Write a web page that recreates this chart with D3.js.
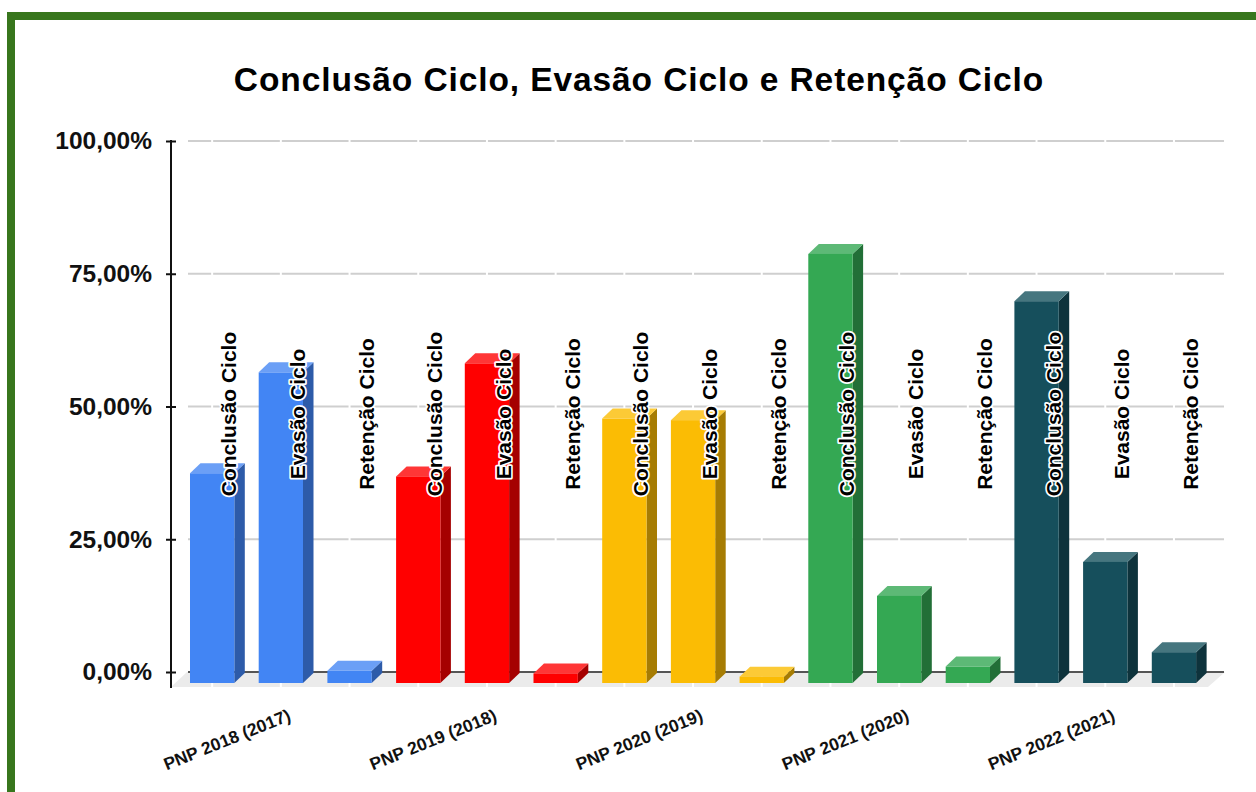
<!DOCTYPE html>
<html>
<head>
<meta charset="utf-8">
<script src="https://cdn.jsdelivr.net/npm/d3@7"></script>
<style>
  body { margin: 0; background: #fff; }
  text { font-family: 'Liberation Sans', Arial, sans-serif; font-weight: bold; }
</style>
</head>
<body>
<div class="svg-container"></div>
<script>
const categories = ['PNP 2018 (2017)', 'PNP 2019 (2018)', 'PNP 2020 (2019)', 'PNP 2021 (2020)', 'PNP 2022 (2021)']
const seriesNames = ['Conclusão Ciclo', 'Evasão Ciclo', 'Retenção Ciclo']
const conclusao = [39.5, 38.9, 49.8, 80.8, 71.9]
const evasao = [58.5, 60.2, 49.5, 16.4, 22.8]
const retencao = [2.3, 1.8, 1.2, 3.1, 5.8]
const yTicks = [0, 25, 50, 75, 100]

// one colour set per category: front, top, side
const palette = [
  ['#4285f4', '#6b9ff6', '#2d5ba9'],
  ['#ff0000', '#ff3636', '#a50000'],
  ['#fbbc04', '#fcca36', '#a67c03'],
  ['#34a853', '#5db976', '#226f37'],
  ['#164f5c', '#46767f', '#0e333c'],
]

const W = 1256, H = 792
const depthX = 10.5, depthY = 10, frontDrop = 11

const svg = d3.select('.svg-container').append('svg')
  .attr('width', W)
  .attr('height', H)

// green frame, cut by the right and bottom edges
svg.append('rect')
  .attr('x', 11).attr('y', 16)
  .attr('width', 1400).attr('height', 1000)
  .attr('fill', '#fff')
  .attr('stroke', '#38761d')
  .attr('stroke-width', 8)

svg.append('text')
  .attr('x', 639).attr('y', 91)
  .attr('text-anchor', 'middle')
  .style('font-size', '33.5px')
  .style('letter-spacing', '0.9px')
  .text('Conclusão Ciclo, Evasão Ciclo e Retenção Ciclo')

// flatten to 15 bars
const bars = []
categories.forEach((c, i) => {
  const vals = [conclusao[i], evasao[i], retencao[i]]
  vals.forEach((v, j) => bars.push({ cat: i, name: seriesNames[j], value: v, idx: i * 3 + j }))
})

const x = d3.scaleBand()
  .domain(d3.range(bars.length))
  .range([177.8, 1208.3])
  .paddingInner(0.355)
  .paddingOuter(0.1775)

const y = d3.scaleLinear().domain([0, 100]).range([672, 141])
const centers = bars.map(b => x(b.idx) + x.bandwidth() / 2)

// floor
const floorFront = y(0) + 15, floorBack = y(0)
svg.append('path')
  .attr('d', `M171,${floorFront}L1208,${floorFront}L1225,${floorBack}L187,${floorBack}Z`)
  .attr('fill', '#ebebeb')
svg.selectAll('.floor-line')
  .data(centers)
  .enter().append('line')
  .attr('x1', d => d).attr('x2', d => d)
  .attr('y1', floorBack).attr('y2', floorFront)
  .attr('stroke', '#fff').attr('stroke-width', 2)

// back-wall gridlines, broken at each bar centre
const stops = [187, ...centers, 1225]
yTicks.forEach(t => {
  const segs = d3.pairs(stops)
  svg.selectAll(null)
    .data(segs)
    .enter().append('line')
    .attr('x1', d => d[0] + 1).attr('x2', d => d[1] - 1)
    .attr('y1', y(t)).attr('y2', y(t))
    .attr('stroke', t === 0 ? '#555' : '#cfcfcf')
    .attr('stroke-width', 2)
})

// y axis
const yAxis = d3.axisLeft(y)
  .tickValues(yTicks)
  .tickSize(5)
  .tickPadding(14)
  .tickFormat(d => d3.format('.2f')(d).replace('.', ',') + '%')

const axisG = svg.append('g')
  .attr('transform', 'translate(171,0)')
  .call(yAxis)
axisG.select('.domain').remove()
axisG.selectAll('.tick line')
  .attr('x1', -5).attr('x2', 5)
  .attr('stroke', '#111').attr('stroke-width', 2)
axisG.selectAll('.tick text')
  .style('font-size', '24.5px')
  .style('font-family', "'Liberation Sans', Arial, sans-serif")
  .style('font-weight', 'bold')
  .attr('fill', '#111')
svg.append('line')
  .attr('x1', 171).attr('x2', 171)
  .attr('y1', y(100) - 1).attr('y2', floorFront + 1)
  .attr('stroke', '#111').attr('stroke-width', 2)

// 3d bars
const base = y(0) + frontDrop
const barG = svg.selectAll('.bar')
  .data(bars)
  .enter().append('g')
  .attr('class', 'bar')

barG.append('path') // side
  .attr('d', d => {
    const x1 = x(d.idx) + x.bandwidth(), yt = y(d.value) + frontDrop
    return `M${x1},${yt}L${x1 + depthX},${yt - depthY}L${x1 + depthX},${base - depthY}L${x1},${base}Z`
  })
  .attr('fill', d => palette[d.cat][2])
barG.append('path') // top
  .attr('d', d => {
    const x0 = x(d.idx), x1 = x0 + x.bandwidth(), yt = y(d.value) + frontDrop
    return `M${x0},${yt}L${x1},${yt}L${x1 + depthX},${yt - depthY}L${x0 + depthX},${yt - depthY}Z`
  })
  .attr('fill', d => palette[d.cat][1])
barG.append('rect') // front
  .attr('x', d => x(d.idx))
  .attr('y', d => y(d.value) + frontDrop)
  .attr('width', x.bandwidth())
  .attr('height', d => base - (y(d.value) + frontDrop))
  .attr('fill', d => palette[d.cat][0])

// vertical series labels with white halo
svg.selectAll('.series-label')
  .data(bars)
  .enter().append('text')
  .attr('class', 'series-label')
  .attr('transform', (d, i) => `translate(${centers[i] + 16.5},414) rotate(-90)`)
  .attr('text-anchor', 'middle')
  .attr('dominant-baseline', 'central')
  .style('font-size', '21px')
  .attr('fill', '#000')
  .attr('stroke', '#fff')
  .attr('stroke-width', 3.5)
  .attr('stroke-linejoin', 'round')
  .attr('paint-order', 'stroke')
  .text(d => d.name)

// slanted category labels
svg.selectAll('.cat-label')
  .data(categories)
  .enter().append('text')
  .attr('class', 'cat-label')
  .attr('transform', (d, i) => `translate(${centers[i * 3 + 1] + 11},720) rotate(-22)`)
  .attr('text-anchor', 'end')
  .style('font-size', '17.5px')
  .attr('fill', '#111')
  .text(d => d)
</script>
</body>
</html>
